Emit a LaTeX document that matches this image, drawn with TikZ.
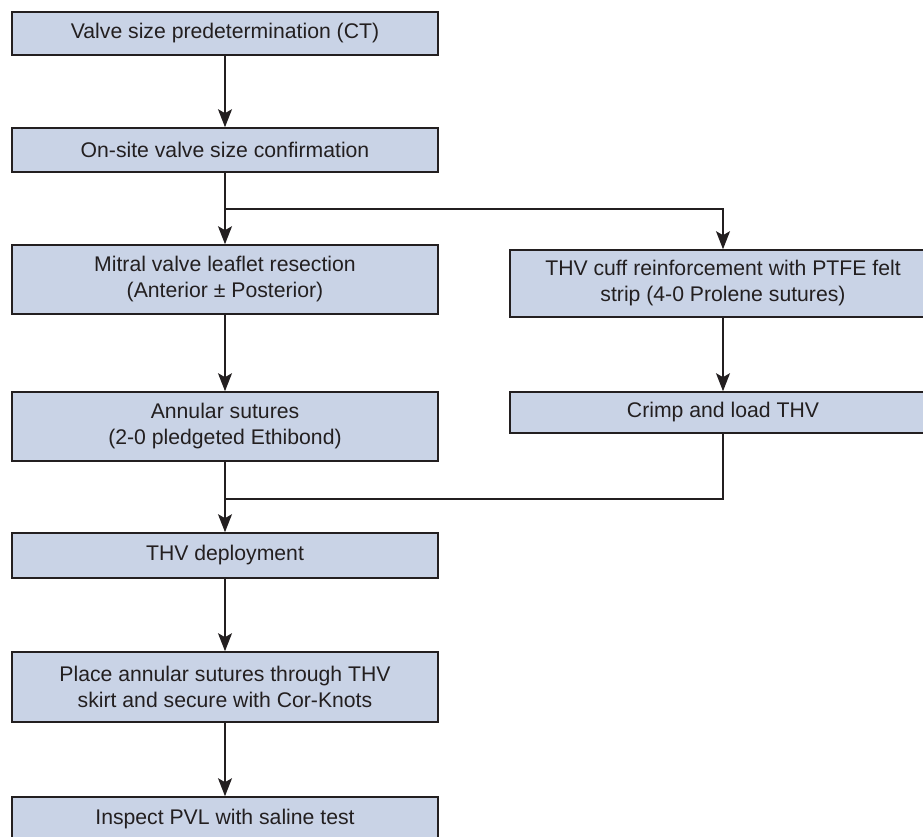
\documentclass[tikz,border=0pt]{standalone}
\usepackage{fontspec}
\setmainfont{Liberation Sans}
\usetikzlibrary{arrows.meta}
\definecolor{boxfill}{RGB}{201,211,230}
\definecolor{ink}{RGB}{35,31,32}
\begin{document}
\begin{tikzpicture}[x=1pt,y=-1pt,
  box/.style={draw=ink, line width=1.6pt, fill=boxfill, minimum width=426pt,
    inner sep=0pt, align=center, text=ink, font=\fontsize{21.2}{26}\selectfont},
  arr/.style={draw=ink, line width=1.4pt, -{Stealth[length=18pt,width=14pt,inset=4pt]}},
  ln/.style={draw=ink, line width=1.4pt}]
\useasboundingbox (0,0) rectangle (923,836);
\clip (0,0) rectangle (923,836);
\node[box, minimum height=43pt] (b1) at (225,33.5) {Valve size predetermination (CT)};
\node[box, minimum height=44pt] (b2) at (225,150) {On-site valve size confirmation};
\node[box, minimum height=69pt] (b3) at (225,279.5) {Mitral valve leaflet resection\\(Anterior ± Posterior)};
\node[box, minimum height=67pt] (b4) at (723,283.5) {THV cuff reinforcement with PTFE felt\\strip (4-0 Prolene sutures)};
\node[box, minimum height=69pt] (b5) at (225,426.5) {Annular sutures\\(2-0 pledgeted Ethibond)};
\node[box, minimum height=41pt] (b6) at (723,412.5) {Crimp and load THV};
\node[box, minimum height=45pt] (b7) at (225,555.5) {THV deployment};
\node[box, minimum height=70pt] (b8) at (225,687) {Place annular sutures through THV\\skirt and secure with Cor-Knots};
\node[box, minimum height=45pt] (b9) at (225,819.5) {Inspect PVL with saline test};
\coordinate (s) at (225,209);
\coordinate (j) at (225,499);
\draw[arr] (b1.south) -- (b2.north);
\draw[ln] (b2.south) -- (s);
\draw[arr] (s) -- (b3.north);
\draw[arr] (s) -| (b4.north);
\draw[arr] (b3.south) -- (b5.north);
\draw[arr] (b4.south) -- (b6.north);
\draw[arr] (b5.south) -- (b7.north);
\draw[ln] (b6.south) |- (j);
\draw[arr] (b7.south) -- (b8.north);
\draw[arr] (b8.south) -- (b9.north);
\end{tikzpicture}
\end{document}
